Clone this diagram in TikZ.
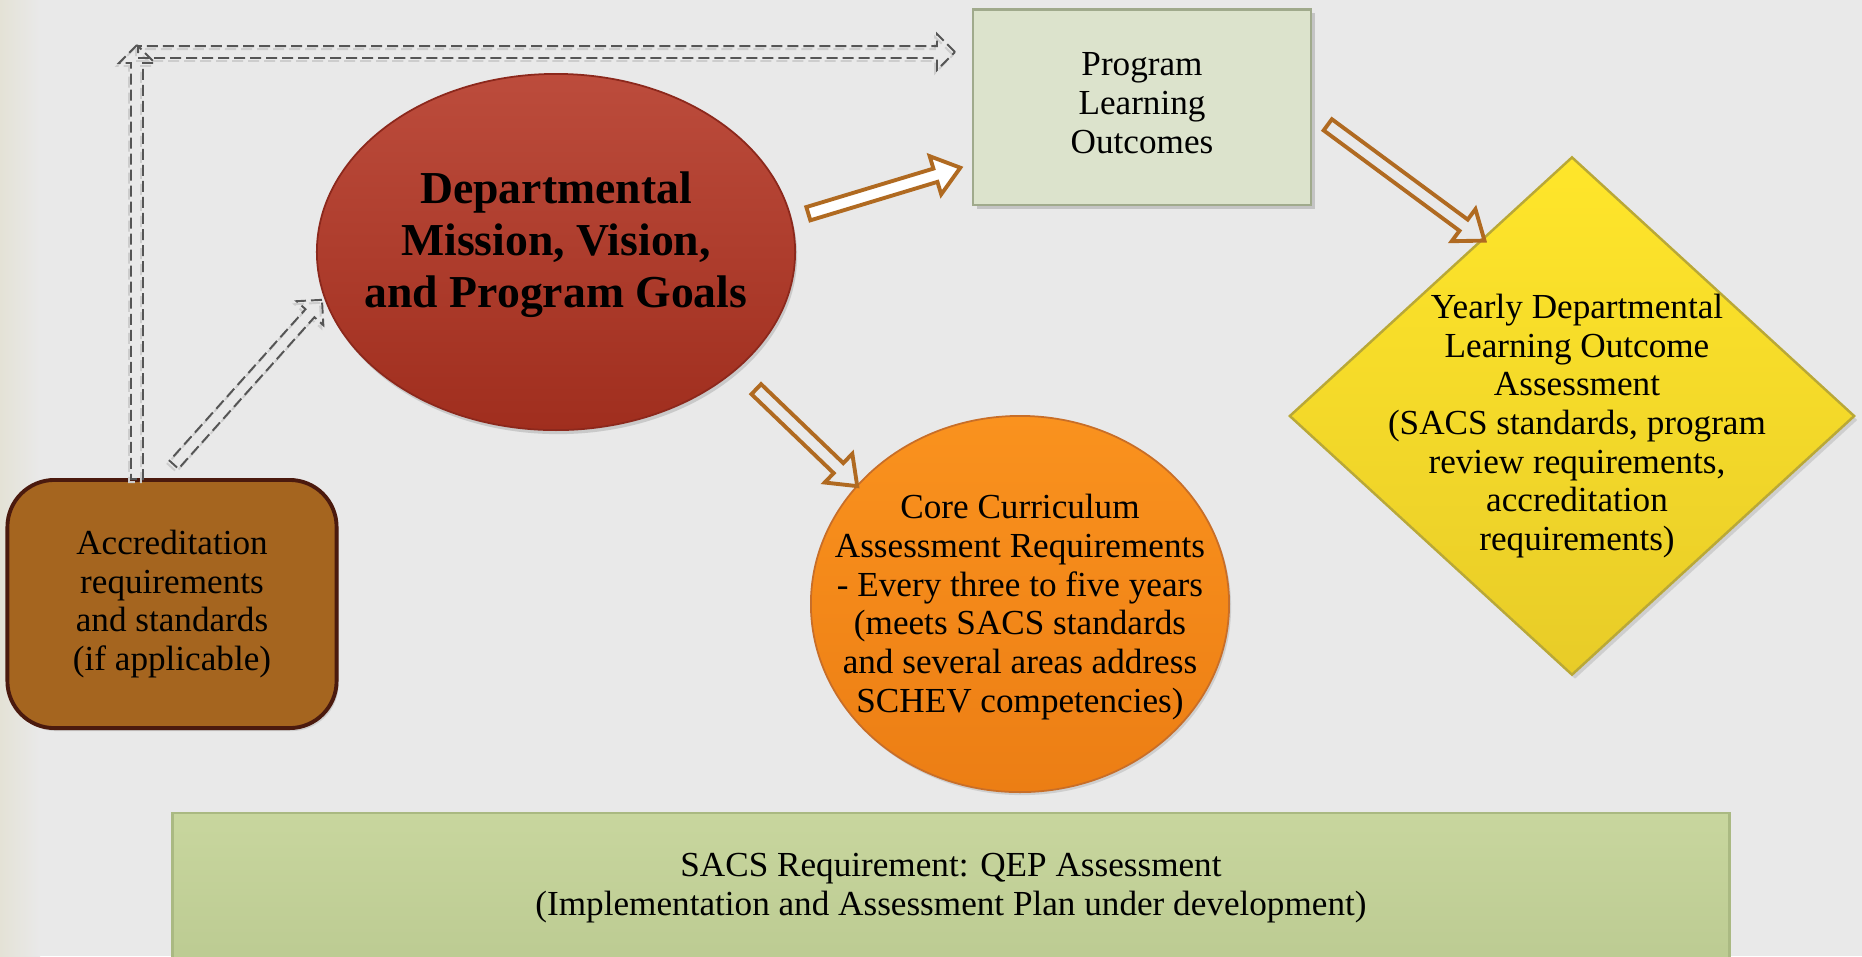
\documentclass[tikz,border=0pt]{standalone}
\usepackage{fontspec}
\setmainfont{Liberation Serif}
\usetikzlibrary{shapes.geometric,shapes.arrows,calc,shadows}

\definecolor{bg}{RGB}{233,233,233}
\definecolor{bgedge}{RGB}{228,226,214}
\definecolor{plofill}{RGB}{220,227,204}
\definecolor{ploedge}{RGB}{160,170,140}
\definecolor{redtop}{RGB}{188,76,60}
\definecolor{redbot}{RGB}{160,46,30}
\definecolor{rededge}{RGB}{140,40,28}
\definecolor{orangetop}{RGB}{250,146,30}
\definecolor{orangebot}{RGB}{236,126,20}
\definecolor{orangeedge}{RGB}{200,110,40}
\definecolor{yeltop}{RGB}{255,230,42}
\definecolor{yelbot}{RGB}{232,204,40}
\definecolor{yeledge}{RGB}{185,168,55}
\definecolor{accfill}{RGB}{165,101,31}
\definecolor{accedge}{RGB}{75,26,14}
\definecolor{qeptop}{RGB}{200,214,158}
\definecolor{qepbot}{RGB}{188,203,146}
\definecolor{qepedge}{RGB}{170,185,130}
\definecolor{arrowbrown}{RGB}{176,106,33}
\definecolor{dashgray}{RGB}{85,85,85}
\definecolor{dashlight}{RGB}{205,205,205}

% hollow block arrow between two named coordinates
\newcommand{\drawblockarrow}[3]{%
  \path let \p1=($(#3)-(#2)$), \n1={atan2(\y1,\x1)}, \n2={veclen(\x1,\y1)} in
    node[#1, rotate=\n1, minimum height=\n2] at ($(#2)!0.5!(#3)$) {};}

\tikzset{
  bodytext/.style={font=\fontsize{10}{11}\selectfont, align=center, text=black},
  plobox/.style={rectangle, fill=plofill, draw=ploedge, line width=0.6pt,
    minimum width=3.37cm, minimum height=1.95cm,
    drop shadow={shadow xshift=0.04cm, shadow yshift=-0.04cm, opacity=0.35}},
  missionshape/.style={ellipse, top color=redtop, bottom color=redbot, draw=rededge,
    line width=0.5pt, minimum width=4.78cm, minimum height=3.56cm, inner sep=0pt,
    drop shadow={shadow xshift=0.02cm, shadow yshift=-0.04cm, opacity=0.3}},
  coreshape/.style={ellipse, top color=orangetop, bottom color=orangebot, draw=orangeedge,
    line width=0.5pt, minimum width=4.18cm, minimum height=3.76cm, inner sep=0pt,
    drop shadow={shadow xshift=0.02cm, shadow yshift=-0.03cm, opacity=0.25}},
  yearshape/.style={diamond, top color=yeltop, bottom color=yelbot, draw=yeledge,
    line width=0.7pt, minimum width=5.65cm, minimum height=5.18cm, inner sep=0pt,
    drop shadow={shadow xshift=0.03cm, shadow yshift=-0.04cm, opacity=0.25}},
  accbox/.style={rectangle, rounded corners=0.47cm, fill=accfill, draw=accedge,
    line width=1.1pt, minimum width=3.29cm, minimum height=2.48cm,
    drop shadow={shadow xshift=0.02cm, shadow yshift=-0.03cm, opacity=0.25}},
  qepbox/.style={rectangle, top color=qeptop, bottom color=qepbot, draw=qepedge,
    line width=0.6pt, minimum width=15.56cm, minimum height=1.50cm},
  hollowarrow/.style={shape=single arrow, draw=arrowbrown, line width=1.1pt,
    inner xsep=0pt, inner ysep=0.05cm, minimum width=0pt,
    single arrow head extend=0.13cm, single arrow tip angle=75,
    single arrow head indent=0pt, anchor=center},
  dasharrow/.style={shape=single arrow, draw=dashgray, line width=0.55pt,
    dash pattern=on 0.11cm off 0.05cm,
    inner xsep=0pt, inner ysep=0.05cm, minimum width=0pt,
    single arrow head extend=0.12cm, single arrow tip angle=90,
    single arrow head indent=0pt, anchor=center},
  dashshadow/.style={dasharrow, draw=dashlight, xshift=-0.02cm, yshift=-0.03cm},
}

\begin{document}
\begin{tikzpicture}[x=0.01cm, y=-0.01cm]
  \useasboundingbox (0,0) rectangle (1862,956);
  % backdrop
  \fill[bg] (0,0) rectangle (1862,956);
  \shade[left color=bgedge, right color=bg] (0,0) rectangle (40,956);

  % boxes and shapes
  \node[plobox] (plo) at (1142,107) {};
  \node[bodytext] (plotext) at ($(plo.center)+(0,-4)$) {Program\\Learning\\Outcomes};

  \node[missionshape] (mission) at (556,252) {};
  \node[align=center, font=\fontsize{13}{14.8}\selectfont\bfseries] (missiontext)
    at ($(mission.center)+(0,-7)$) {Departmental\\Mission, Vision,\\and Program Goals};

  \node[coreshape] (core) at (1020,604) {};
  \node[bodytext] (coretext) at ($(core.center)+(0,3)$)
    {Core Curriculum\\Assessment Requirements\\- Every three to five years\\(meets SACS standards\\and several areas address\\SCHEV competencies)};

  \node[yearshape] (year) at (1572,416) {};
  \node[bodytext] (yeartext) at ($(year.center)+(5,10)$)
    {Yearly Departmental\\Learning Outcome\\Assessment\\(SACS standards, program\\review requirements,\\accreditation\\requirements)};

  \node[accbox, bodytext] (acc) at (172,604) {Accreditation\\requirements\\and standards\\(if applicable)};

  \node[qepbox, bodytext] (qep) at (951,888)
    {SACS Requirement: QEP Assessment\\(Implementation and Assessment Plan under development)};

  % arrow end points
  \coordinate (m2p-s) at (804,215);  \coordinate (m2p-e) at (956,169);
  \coordinate (p2y-s) at (1324,122); \coordinate (p2y-e) at (1481,238);
  \coordinate (m2c-s) at (753,386);  \coordinate (m2c-e) at (854,483);
  \coordinate (a2m-s) at (172,467);  \coordinate (a2m-e) at (320,302);
  \coordinate (up-s) at (137,482);   \coordinate (up-e) at (137,48);
  \coordinate (rt-s) at (135,52);    \coordinate (rt-e) at (952,52);

  % solid hollow arrows
  \drawblockarrow{hollowarrow, fill=white}{m2p-s}{m2p-e}
  \drawblockarrow{hollowarrow}{p2y-s}{p2y-e}
  \drawblockarrow{hollowarrow}{m2c-s}{m2c-e}

  % dashed hollow arrows with their light shadows
  \drawblockarrow{dashshadow}{a2m-s}{a2m-e}
  \drawblockarrow{dashshadow}{up-s}{up-e}
  \drawblockarrow{dashshadow}{rt-s}{rt-e}
  \drawblockarrow{dasharrow}{a2m-s}{a2m-e}
  \drawblockarrow{dasharrow}{up-s}{up-e}
  \drawblockarrow{dasharrow}{rt-s}{rt-e}
\end{tikzpicture}
\end{document}
